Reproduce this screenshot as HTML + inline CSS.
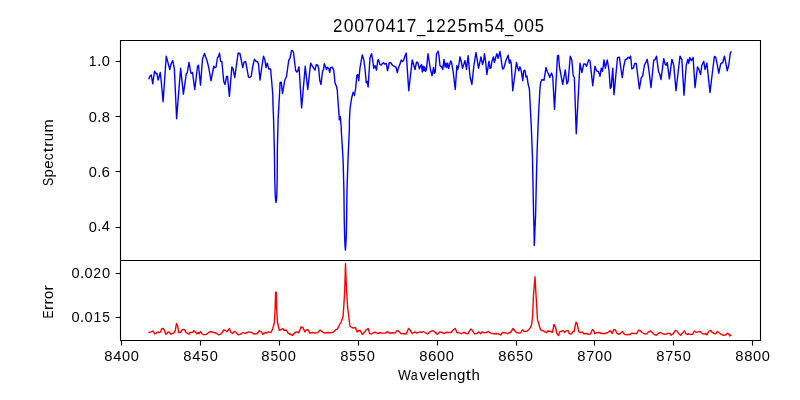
<!DOCTYPE html>
<html><head><meta charset="utf-8"><title>20070417_1225m54_005</title><style>html,body{margin:0;padding:0;background:#fff;overflow:hidden;width:800px;height:400px}svg{display:block;will-change:transform}</style></head><body>
<svg width="800" height="400" viewBox="0 0 800 400">
<rect x="0" y="0" width="800" height="400" fill="#fff"/>
<polyline points="148.75,79.38 149.75,76.25 151.25,75.00 152.75,83.88 154.50,71.20 156.25,73.75 157.00,73.38 158.12,80.12 159.00,77.12 160.25,72.45 161.25,81.50 163.10,101.70 166.25,56.20 168.50,64.62 169.75,69.50 171.00,64.00 172.75,60.58 174.38,69.00 176.60,118.80 180.62,68.08 183.40,94.10 186.25,74.00 187.25,72.75 189.00,62.45 190.00,68.38 191.00,73.38 192.50,72.50 194.75,89.50 197.50,66.50 198.50,65.25 200.50,85.12 202.50,59.00 204.50,53.45 207.25,61.50 208.75,67.75 211.00,80.75 213.75,66.25 215.00,67.75 216.00,67.12 217.50,57.75 218.50,56.50 219.50,53.08 220.62,61.50 221.88,61.50 223.75,81.50 225.00,84.50 226.50,76.75 227.50,76.25 229.38,96.38 231.88,66.83 233.12,69.00 234.75,77.62 236.25,66.50 238.12,53.00 240.00,53.75 242.75,67.62 244.00,62.12 245.62,61.50 248.50,77.12 249.75,77.50 251.25,76.25 252.50,67.75 254.38,59.33 256.25,61.50 257.50,61.50 258.50,64.00 260.00,80.12 261.50,69.00 263.50,56.20 265.00,60.25 266.00,67.62 267.25,63.08 268.75,69.00 270.62,69.00 272.75,94.00 273.00,105.00 273.60,120.00 274.35,150.00 274.80,180.00 275.20,195.00 275.60,200.00 276.00,202.40 276.40,200.00 276.80,195.00 277.20,180.00 277.35,150.00 278.10,120.00 278.90,105.00 279.75,90.00 280.00,82.75 281.25,82.12 282.50,93.62 284.75,80.25 286.50,76.50 288.75,60.25 290.00,58.38 291.50,50.50 292.75,50.88 293.50,52.75 295.62,70.25 296.88,72.12 297.75,70.88 299.00,66.83 301.62,108.00 305.25,66.20 307.75,89.50 310.62,63.08 312.25,65.88 315.00,70.12 316.25,64.62 317.75,65.25 318.75,69.00 319.75,80.25 321.00,84.50 322.50,71.50 323.50,69.62 324.38,63.70 325.62,67.12 326.50,69.50 327.50,67.12 328.75,68.38 329.75,72.62 330.62,67.75 332.25,67.12 333.75,70.25 335.00,82.75 336.50,86.50 337.25,90.00 338.12,102.50 339.38,119.88 340.25,116.58 341.25,127.50 341.25,130.00 342.50,150.00 343.10,160.00 343.90,190.00 344.25,220.00 344.60,235.00 345.00,245.00 345.40,250.10 345.80,245.00 346.30,235.00 346.60,220.00 347.00,190.00 348.00,160.00 348.40,150.00 349.35,130.00 349.38,121.25 350.00,108.75 351.50,98.75 353.10,92.20 354.40,95.50 355.60,88.50 356.88,75.25 357.75,74.62 358.75,80.75 360.00,67.75 362.25,54.95 363.75,59.62 365.00,69.00 366.25,82.75 367.25,81.50 368.12,87.00 370.00,57.75 371.50,53.70 372.50,59.00 373.75,68.25 375.00,65.58 376.50,70.12 377.75,60.25 378.50,59.62 380.00,64.62 381.25,65.00 382.50,63.38 383.50,62.75 384.38,64.00 386.25,63.38 387.50,70.75 389.38,62.75 390.62,62.75 392.50,65.25 394.38,66.50 396.00,67.12 397.25,72.62 398.50,67.75 400.00,64.00 401.25,60.00 402.50,61.50 403.75,60.25 404.75,56.50 406.25,53.08 408.75,90.75 412.25,59.95 415.00,69.50 416.50,62.12 417.75,62.50 419.38,68.88 420.62,65.88 421.50,64.62 422.25,72.00 423.12,66.20 424.00,70.75 424.75,66.83 425.62,71.38 426.50,69.00 428.00,53.70 429.38,62.75 430.62,70.25 432.12,75.75 433.50,67.45 434.38,73.38 435.25,72.12 436.50,54.00 438.12,51.20 439.00,55.88 440.00,65.88 441.50,66.50 442.75,69.50 444.00,59.33 445.00,67.00 446.00,63.08 446.88,67.62 447.75,63.08 448.75,68.25 450.62,60.88 451.50,62.12 453.12,71.50 455.25,89.50 456.88,65.58 457.75,69.50 458.75,65.25 460.00,56.83 461.25,61.50 462.50,68.25 463.75,64.62 465.00,60.58 466.50,69.50 468.12,55.58 470.00,76.50 471.88,84.50 473.75,66.50 476.00,52.45 478.50,68.25 481.00,56.83 482.50,64.50 483.75,60.25 484.38,53.70 485.62,61.50 486.88,74.50 489.00,61.20 490.00,68.38 491.00,67.75 491.88,61.50 493.50,56.83 494.38,62.62 496.00,56.50 496.88,53.70 498.12,58.25 500.00,51.45 502.50,69.00 503.75,68.38 506.00,60.25 508.12,55.20 509.38,63.25 510.25,59.95 511.25,63.38 512.75,90.75 516.50,62.45 517.75,67.75 518.75,70.75 520.00,66.83 521.25,70.88 522.75,80.75 523.75,70.88 525.00,70.25 526.00,77.12 526.88,75.88 528.12,84.00 529.38,89.00 531.20,125.00 532.40,155.00 533.00,185.00 533.60,215.00 534.00,228.00 534.20,240.00 534.20,245.50 534.60,240.00 535.00,228.00 535.60,215.00 536.25,185.00 537.00,155.00 538.10,125.00 538.60,113.00 540.00,88.00 540.62,82.75 541.88,79.62 544.00,80.25 546.00,67.45 547.25,71.50 548.50,74.00 549.75,77.62 551.50,73.08 552.75,76.50 554.50,109.30 557.50,55.88 558.50,55.25 559.38,66.50 561.25,76.50 562.75,84.50 565.25,69.95 566.88,83.88 568.12,81.50 570.25,56.20 571.88,60.25 573.12,75.25 574.38,77.75 576.25,133.80 580.00,63.08 581.88,72.62 583.75,64.00 585.25,64.00 586.50,66.38 588.75,59.62 590.00,60.88 592.75,85.75 595.00,66.20 596.50,70.88 598.50,71.50 600.00,76.38 601.25,68.08 602.50,71.38 604.00,59.95 605.25,68.25 607.25,59.95 609.00,70.25 610.25,88.38 611.25,87.12 612.75,68.08 614.00,94.70 617.50,57.75 619.38,57.12 620.62,66.50 622.25,77.62 623.75,66.50 625.25,59.62 626.88,59.00 628.12,57.12 629.38,58.38 630.62,56.20 631.88,69.00 633.50,67.75 634.75,63.38 636.25,63.38 639.38,88.88 641.25,77.75 642.75,75.88 644.38,65.25 646.00,62.12 647.25,59.33 649.00,70.88 651.00,87.62 653.75,60.25 655.00,59.62 656.50,56.20 658.50,71.50 659.75,74.00 661.00,79.50 663.75,58.70 665.25,64.62 666.25,65.25 667.25,62.45 669.38,78.88 671.88,59.33 673.75,65.25 676.00,90.75 680.00,56.20 681.88,59.62 684.00,95.25 686.25,65.25 687.75,59.33 688.75,63.25 689.75,57.45 691.25,60.75 693.12,57.45 695.00,87.62 697.50,66.83 698.75,69.00 700.62,74.50 701.88,65.25 703.75,61.20 705.00,69.50 706.88,63.08 710.00,92.50 712.50,71.50 714.38,56.50 715.62,57.12 716.88,62.75 718.75,73.25 720.62,64.00 721.88,62.75 722.75,62.75 724.38,56.20 726.00,64.00 727.25,70.75 728.75,65.25 730.25,53.38 731.25,51.25" fill="none" stroke="#0000ff" stroke-width="1.4" stroke-linejoin="round" stroke-linecap="butt"/>
<polyline points="148.50,332.50 151.25,331.88 153.12,331.00 154.75,334.00 156.25,333.12 157.50,331.88 159.00,332.50 160.25,332.25 161.88,328.75 163.12,328.50 164.38,330.00 165.62,334.00 166.88,333.75 168.12,331.88 169.38,331.88 170.62,334.00 172.25,333.50 173.75,333.12 175.25,330.62 176.50,323.50 177.50,325.62 178.75,332.50 180.62,332.50 181.88,330.00 183.75,329.38 185.25,330.62 186.00,332.50 187.50,333.12 188.75,334.38 190.00,332.50 191.50,332.50 192.75,332.25 194.00,330.62 195.62,332.25 196.88,333.75 198.12,332.50 199.00,333.75 200.62,331.50 201.88,333.75 203.75,334.75 206.25,334.38 208.75,332.50 211.00,331.50 213.12,332.50 215.00,332.75 216.88,333.50 219.00,335.00 221.25,333.75 224.00,329.75 225.62,330.62 226.88,331.88 229.38,328.50 231.00,332.50 232.50,333.50 234.38,331.50 235.62,331.88 238.12,334.75 240.00,334.38 243.12,332.50 245.00,333.50 248.50,331.88 251.88,332.50 253.75,334.00 257.50,333.50 259.38,330.62 261.00,331.50 261.88,332.50 262.75,334.38 264.38,333.12 265.62,332.50 266.88,333.12 268.12,331.88 271.00,332.50 272.75,328.75 274.38,322.50 275.12,308.75 275.62,292.12 276.25,292.12 276.62,308.75 277.50,322.50 279.38,330.25 281.00,329.75 282.75,328.50 284.00,330.25 285.25,330.00 286.50,330.25 288.12,333.12 290.00,334.00 292.50,335.25 295.00,332.50 296.88,331.88 298.75,332.75 301.25,326.88 303.12,327.75 304.75,331.88 306.25,330.00 308.12,329.75 309.75,333.12 312.50,332.50 315.00,333.12 317.50,332.75 320.00,330.00 322.50,331.88 324.75,333.12 327.50,332.50 330.00,332.75 333.12,332.25 336.00,329.38 337.25,329.38 339.38,325.00 341.50,321.25 343.12,316.25 344.00,302.50 344.75,290.00 345.50,263.60 346.50,290.00 347.75,308.75 350.00,326.25 351.88,327.50 353.50,328.12 355.25,327.50 357.25,331.88 358.75,330.62 360.00,330.25 362.25,334.38 363.75,333.12 366.00,330.00 368.12,328.50 369.75,333.75 371.50,334.00 373.75,332.50 375.62,332.25 377.50,333.50 380.00,332.75 382.50,333.12 385.62,333.12 387.50,331.50 389.38,333.12 392.50,332.75 395.00,333.12 396.88,330.62 398.50,331.00 401.00,333.50 403.75,333.75 406.25,334.00 408.50,328.50 410.00,330.00 412.25,333.50 415.00,331.88 416.88,333.12 420.00,331.88 421.88,332.25 423.12,331.50 425.00,332.50 427.50,334.00 430.00,331.88 432.50,330.62 434.75,331.88 437.50,334.38 439.75,331.88 442.25,332.50 444.38,333.50 446.25,332.25 448.75,332.50 451.00,332.50 453.12,330.00 455.25,328.50 456.88,332.50 459.38,332.75 461.25,333.75 463.75,332.25 466.25,333.50 468.12,333.75 469.38,331.00 471.00,329.00 472.50,330.62 474.38,333.75 476.88,333.50 478.75,331.88 480.62,333.75 481.88,331.88 483.75,332.75 486.25,332.50 488.50,331.50 490.62,333.12 493.75,333.75 496.25,333.50 498.75,334.00 500.62,335.00 502.50,332.50 505.62,332.75 507.50,333.75 510.62,332.25 513.12,328.50 515.00,331.00 516.88,332.75 520.00,333.12 521.25,331.88 522.50,329.75 523.75,331.25 526.25,331.50 528.12,330.25 530.00,328.12 531.50,325.00 532.50,317.50 533.50,295.00 535.00,276.70 536.00,295.00 537.50,319.38 538.75,323.75 540.00,328.12 541.25,330.62 543.12,330.62 545.00,331.88 546.50,332.75 547.75,331.00 550.00,331.25 552.50,332.25 554.00,324.38 555.62,327.50 556.88,333.50 558.50,335.62 559.75,331.88 561.88,331.00 563.12,330.62 564.75,332.50 566.25,330.62 568.12,330.62 569.38,333.75 571.25,334.00 573.12,331.50 574.00,331.50 576.00,322.25 577.25,324.00 578.75,331.88 580.62,332.50 582.25,331.88 583.75,333.75 586.25,333.50 588.50,334.38 590.62,333.75 592.25,329.75 593.50,330.00 594.75,333.75 596.50,332.75 599.38,332.50 601.88,333.50 605.00,333.50 607.50,332.75 610.25,330.62 612.25,333.50 613.75,329.75 615.25,329.75 616.88,333.12 618.75,334.38 620.00,333.75 621.25,332.50 622.75,331.50 624.38,334.38 626.88,334.75 628.75,334.38 629.75,334.75 631.88,333.12 634.38,333.50 636.88,333.50 638.50,330.25 640.00,330.62 642.25,332.50 645.00,334.00 646.88,333.75 648.50,331.88 650.62,331.00 652.25,332.50 654.00,334.38 656.25,335.25 658.12,333.50 660.62,332.50 663.12,334.00 665.62,334.38 668.12,333.12 670.00,333.75 671.25,335.25 673.12,333.75 675.62,330.25 677.25,331.25 678.75,333.75 680.62,335.25 682.50,333.12 684.38,331.00 686.00,333.75 687.50,334.38 688.50,333.75 690.00,334.38 692.50,334.38 694.38,331.00 696.00,332.25 698.12,331.88 700.00,331.50 702.50,333.75 705.00,334.00 706.00,333.50 706.88,335.00 708.75,331.25 710.62,330.25 712.25,332.50 713.75,333.12 715.25,334.00 717.50,331.50 718.75,332.50 720.00,333.44 721.25,334.38 723.44,335.31 725.31,335.12 727.50,333.25 728.44,333.62 729.69,335.94 730.62,335.00 731.56,335.12" fill="none" stroke="#ff0000" stroke-width="1.4" stroke-linejoin="round" stroke-linecap="butt"/>
<g stroke="#000" stroke-width="1.11" fill="none" stroke-linecap="square">
<path d="M120.5,40.5 H760.5 V340.5 H120.5 Z M120.5,260.5 H760.5"/>
</g>
<g stroke="#000" stroke-width="1.11" fill="none" stroke-linecap="butt">
<path d="M121.5,340.5 V345.56"/>
<path d="M200.5,340.5 V345.56"/>
<path d="M279.5,340.5 V345.56"/>
<path d="M358.5,340.5 V345.56"/>
<path d="M437.5,340.5 V345.56"/>
<path d="M516.5,340.5 V345.56"/>
<path d="M594.5,340.5 V345.56"/>
<path d="M673.5,340.5 V345.56"/>
<path d="M752.5,340.5 V345.56"/>
<path d="M120.5,61.5 H115.64"/>
<path d="M120.5,116.5 H115.64"/>
<path d="M120.5,171.5 H115.64"/>
<path d="M120.5,227.5 H115.64"/>
<path d="M120.5,273.5 H115.64"/>
<path d="M120.5,317.5 H115.64"/>
</g>
<g font-family="'Liberation Sans', sans-serif" font-size="10" fill="#000">
<text transform="matrix(1.4799,0,0,1.4837,104.374,360.767)">8</text>
<text transform="matrix(1.4643,0,0,1.4717,113.291,360.715)">4</text>
<text transform="matrix(1.4641,0,0,1.4837,122.043,360.767)">0</text>
<text transform="matrix(1.4641,0,0,1.4837,130.793,360.767)">0</text>
<text transform="matrix(1.4799,0,0,1.4837,183.278,361.223)">8</text>
<text transform="matrix(1.4643,0,0,1.4717,192.196,361.171)">4</text>
<text transform="matrix(1.3817,0,0,1.4793,201.122,361.223)">5</text>
<text transform="matrix(1.4641,0,0,1.4837,209.697,361.223)">0</text>
<text transform="matrix(1.4799,0,0,1.4837,261.366,361.442)">8</text>
<text transform="matrix(1.3817,0,0,1.4793,270.460,361.443)">5</text>
<text transform="matrix(1.4641,0,0,1.4837,279.035,361.442)">0</text>
<text transform="matrix(1.4641,0,0,1.4837,287.785,361.442)">0</text>
<text transform="matrix(1.4799,0,0,1.4837,340.263,361.435)">8</text>
<text transform="matrix(1.3817,0,0,1.4793,349.357,361.435)">5</text>
<text transform="matrix(1.3817,0,0,1.4793,358.107,361.435)">5</text>
<text transform="matrix(1.4641,0,0,1.4837,366.682,361.435)">0</text>
<text transform="matrix(1.4799,0,0,1.4837,419.325,361.396)">8</text>
<text transform="matrix(1.5153,0,0,1.4837,428.100,361.396)">6</text>
<text transform="matrix(1.4641,0,0,1.4837,437.119,361.396)">0</text>
<text transform="matrix(1.4641,0,0,1.4837,445.869,361.396)">0</text>
<text transform="matrix(1.4799,0,0,1.4837,498.326,361.447)">8</text>
<text transform="matrix(1.5153,0,0,1.4837,507.102,361.447)">6</text>
<text transform="matrix(1.3817,0,0,1.4793,516.295,361.447)">5</text>
<text transform="matrix(1.4641,0,0,1.4837,524.870,361.447)">0</text>
<text transform="matrix(1.4799,0,0,1.4837,577.350,360.776)">8</text>
<text transform="matrix(1.4322,0,0,1.4717,586.331,360.724)">7</text>
<text transform="matrix(1.4641,0,0,1.4837,595.019,360.776)">0</text>
<text transform="matrix(1.4641,0,0,1.4837,603.769,360.776)">0</text>
<text transform="matrix(1.4799,0,0,1.4837,656.267,360.858)">8</text>
<text transform="matrix(1.4322,0,0,1.4717,665.247,360.806)">7</text>
<text transform="matrix(1.3817,0,0,1.4793,674.111,360.858)">5</text>
<text transform="matrix(1.4641,0,0,1.4837,682.686,360.858)">0</text>
<text transform="matrix(1.4799,0,0,1.4837,735.315,360.971)">8</text>
<text transform="matrix(1.4799,0,0,1.4837,744.190,360.971)">8</text>
<text transform="matrix(1.4641,0,0,1.4837,753.109,360.971)">0</text>
<text transform="matrix(1.4641,0,0,1.4837,761.859,360.971)">0</text>
<text transform="matrix(1.3983,0,0,1.4717,88.717,66.242)">1</text>
<text transform="matrix(1.5028,0,0,1.6109,97.244,66.242)">.</text>
<text transform="matrix(1.4641,0,0,1.4837,101.850,66.294)">0</text>
<text transform="matrix(1.4641,0,0,1.4837,88.699,121.943)">0</text>
<text transform="matrix(1.5028,0,0,1.6109,97.219,121.891)">.</text>
<text transform="matrix(1.4799,0,0,1.4837,101.780,121.943)">8</text>
<text transform="matrix(1.4641,0,0,1.4837,88.628,176.694)">0</text>
<text transform="matrix(1.5028,0,0,1.6109,97.147,176.643)">.</text>
<text transform="matrix(1.5153,0,0,1.4837,101.610,176.694)">6</text>
<text transform="matrix(1.4641,0,0,1.4837,88.723,231.546)">0</text>
<text transform="matrix(1.5028,0,0,1.6109,97.243,231.495)">.</text>
<text transform="matrix(1.4643,0,0,1.4717,101.847,231.495)">4</text>
<text transform="matrix(1.4641,0,0,1.4837,71.470,278.275)">0</text>
<text transform="matrix(1.5028,0,0,1.6109,79.990,278.223)">.</text>
<text transform="matrix(1.4641,0,0,1.4837,84.595,278.275)">0</text>
<text transform="matrix(1.4112,0,0,1.4763,93.309,278.223)">2</text>
<text transform="matrix(1.4641,0,0,1.4837,102.095,278.275)">0</text>
<text transform="matrix(1.4641,0,0,1.4837,71.402,321.971)">0</text>
<text transform="matrix(1.5028,0,0,1.6109,79.921,321.919)">.</text>
<text transform="matrix(1.4641,0,0,1.4837,84.527,321.971)">0</text>
<text transform="matrix(1.3983,0,0,1.4717,93.394,321.919)">1</text>
<text transform="matrix(1.3817,0,0,1.4793,102.326,321.972)">5</text>
<text transform="matrix(1.3693,0,0,1.4717,397.916,379.638)">W</text>
<text transform="matrix(1.2489,0,0,1.4557,410.694,379.692)">a</text>
<text transform="matrix(1.4989,0,0,1.4377,419.378,379.638)">v</text>
<text transform="matrix(1.5002,0,0,1.4557,427.394,379.692)">e</text>
<text transform="matrix(1.4198,0,0,1.4563,436.117,379.638)">l</text>
<text transform="matrix(1.5002,0,0,1.4557,439.769,379.692)">e</text>
<text transform="matrix(1.4974,0,0,1.4456,448.407,379.638)">n</text>
<text transform="matrix(1.5095,0,0,1.4335,457.023,379.552)">g</text>
<text transform="matrix(1.8563,0,0,1.4905,465.857,379.521)">t</text>
<text transform="matrix(1.5078,0,0,1.4563,471.481,379.638)">h</text>
<text transform="matrix(1.6935,0,0,1.7716,332.971,31.924)">2</text>
<text transform="matrix(1.7569,0,0,1.7805,343.639,31.986)">0</text>
<text transform="matrix(1.7569,0,0,1.7805,354.139,31.986)">0</text>
<text transform="matrix(1.7186,0,0,1.7660,364.713,31.924)">7</text>
<text transform="matrix(1.7569,0,0,1.7805,375.139,31.986)">0</text>
<text transform="matrix(1.7571,0,0,1.7660,385.638,31.924)">4</text>
<text transform="matrix(1.6780,0,0,1.7660,396.280,31.924)">1</text>
<text transform="matrix(1.7186,0,0,1.7660,406.838,31.924)">7</text>
<text transform="matrix(1.4864,0,0,1.8333,416.914,32.211)">_</text>
<text transform="matrix(1.6780,0,0,1.7660,425.780,31.924)">1</text>
<text transform="matrix(1.6935,0,0,1.7716,436.221,31.924)">2</text>
<text transform="matrix(1.6935,0,0,1.7716,446.846,31.924)">2</text>
<text transform="matrix(1.6581,0,0,1.7751,457.724,31.986)">5</text>
<text transform="matrix(1.8990,0,0,1.7347,467.855,31.924)">m</text>
<text transform="matrix(1.6581,0,0,1.7751,484.474,31.986)">5</text>
<text transform="matrix(1.7571,0,0,1.7660,494.763,31.924)">4</text>
<text transform="matrix(1.4864,0,0,1.8333,504.914,32.211)">_</text>
<text transform="matrix(1.7569,0,0,1.7805,513.639,31.986)">0</text>
<text transform="matrix(1.7569,0,0,1.7805,524.139,31.986)">0</text>
<text transform="matrix(1.6581,0,0,1.7751,534.849,31.986)">5</text>
<g transform="translate(52.629,152.829) rotate(-90)"><text transform="matrix(1.2381,0,0,1.4837,-33.272,0.052)">S</text><text transform="matrix(1.5110,0,0,1.4317,-24.588,-0.082)">p</text><text transform="matrix(1.5002,0,0,1.4557,-15.871,0.055)">e</text><text transform="matrix(1.3936,0,0,1.4557,-7.326,0.055)">c</text><text transform="matrix(1.8563,0,0,1.4905,0.217,-0.116)">t</text><text transform="matrix(1.7795,0,0,1.4456,5.705,0.000)">r</text><text transform="matrix(1.4974,0,0,1.4822,11.583,0.052)">u</text><text transform="matrix(1.5825,0,0,1.4456,20.336,0.000)">m</text></g>
<g transform="translate(53.026,301.988) rotate(-90)"><text transform="matrix(1.2037,0,0,1.4717,-16.624,0.000)">E</text><text transform="matrix(1.7795,0,0,1.4456,-8.170,0.000)">r</text><text transform="matrix(1.7795,0,0,1.4456,-2.670,0.000)">r</text><text transform="matrix(1.4765,0,0,1.4557,2.896,0.055)">o</text><text transform="matrix(1.7795,0,0,1.4456,11.330,0.000)">r</text></g>
</g>
</svg>
</body></html>
